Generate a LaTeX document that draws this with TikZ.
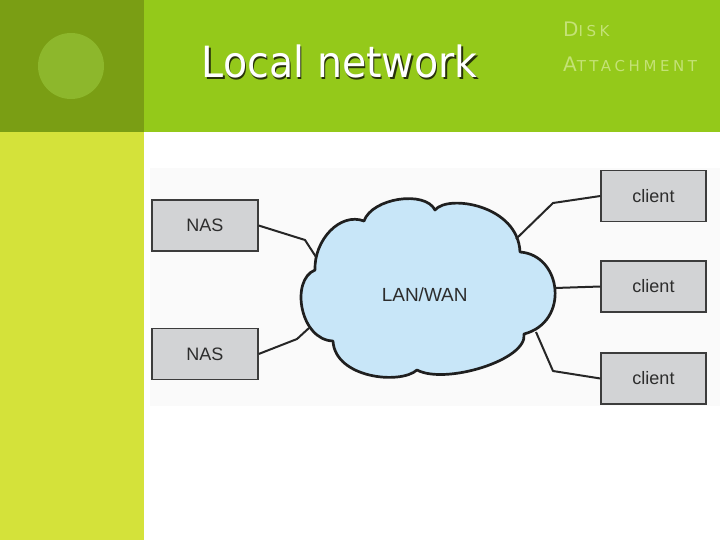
\documentclass[tikz,border=0pt]{standalone}
\usepackage{fontspec}
\usepackage{graphicx}
\setmainfont{Liberation Sans}
\newfontfamily\titlefont{DejaVu Sans}
\newfontfamily\diskfont[LetterSpace=24]{DejaVu Sans}
\definecolor{topbar}{RGB}{148,201,26}
\definecolor{darkleft}{RGB}{122,158,20}
\definecolor{circlegreen}{RGB}{141,183,44}
\definecolor{lowerleft}{RGB}{212,226,58}
\definecolor{disktext}{RGB}{196,226,118}
\definecolor{shadowc}{RGB}{40,50,10}
\definecolor{boxfill}{RGB}{210,211,213}
\definecolor{boxline}{RGB}{60,60,60}
\definecolor{cloudfill}{RGB}{200,230,248}
\definecolor{inktext}{RGB}{45,45,45}
\definecolor{imgbg}{RGB}{250,250,250}
\tikzset{
  devbox/.style={draw=boxline, fill=boxfill, line width=1.3pt, minimum width=106pt, minimum height=51pt, inner sep=0pt, text=inktext, font=\fontsize{18}{18}\selectfont},
  wire/.style={draw=black!85, line width=2pt, line join=round},
  titletext/.style={anchor=base west, inner sep=0pt, font=\titlefont\fontsize{43}{43}\selectfont},
  disklabel/.style={anchor=base west, inner sep=0pt, text=disktext}
}
\begin{document}
\begin{tikzpicture}[x=1pt,y=-1pt]
\useasboundingbox (0,0) rectangle (720,540);
% background panels
\fill[lowerleft] (0,132) rectangle (144,540);
\fill[darkleft] (0,0) rectangle (144,132);
\fill[topbar] (144,0) rectangle (720,132);
\fill[circlegreen] (71,66) circle[radius=33pt];
\fill[imgbg] (150,168) rectangle (720,406);
% title
\node[titletext, text=shadowc] (titleshadow) at (203.2,79.5) {\scalebox{0.92}[1]{Local network}};
\node[titletext, text=white] (title) at (201.7,78) {\scalebox{0.92}[1]{Local network}};
\node[disklabel] (disk) at (563,36.7) {\diskfont{\fontsize{20}{20}\selectfont D}{\fontsize{15}{15}\selectfont ISK}};
\node[disklabel] (attach) at (563,71.7) {\diskfont{\fontsize{20}{20}\selectfont A}{\fontsize{15}{15}\selectfont TTACHMENT}};
% cloud
\draw[fill=cloudfill, draw=black!88, line width=2.7pt, line join=round]
  (315,270) .. controls (314,240) and (340,212) .. (364,221)
  .. controls (372,198) and (425,190) .. (435,210)
  .. controls (448,194) and (518,205) .. (520,252)
  .. controls (562,255) and (570,322) .. (524,334)
  .. controls (528,360) and (445,385) .. (417,370)
  .. controls (400,385) and (335,378) .. (333,341)
  .. controls (300,340) and (290,280) .. (315,270) -- cycle;
\node[inner sep=0pt, anchor=base, text=inktext, font=\fontsize{19}{19}\selectfont] (lan) at (424.7,301) {LAN/WAN};
\coordinate (n1end) at (316,257);
\coordinate (n2end) at (309,328);
\coordinate (c1end) at (516,239);
\coordinate (c2end) at (555,288);
\coordinate (c3end) at (536,332);
\coordinate (n1bend) at (305,240);
\coordinate (n2bend) at (297,339);
\coordinate (c1bend) at (553,203);
\coordinate (c3bend) at (553,371);
% devices
\node[devbox] (nas1) at (205,225.5) {NAS};
\node[devbox] (nas2) at (205,354) {NAS};
\node[devbox, minimum width=105pt] (client1) at (653.5,196) {client};
\node[devbox, minimum width=105pt] (client2) at (653.5,286.5) {client};
\node[devbox, minimum width=105pt] (client3) at (653.5,378.5) {client};
% connectors
\draw[wire] (nas1.east) -- (n1bend) -- (n1end);
\draw[wire] (nas2.east) -- (n2bend) -- (n2end);
\draw[wire] (client1.west) -- (c1bend) -- (c1end);
\draw[wire] (client2.west) -- (c2end);
\draw[wire] (client3.west) -- (c3bend) -- (c3end);
\end{tikzpicture}
\end{document}
